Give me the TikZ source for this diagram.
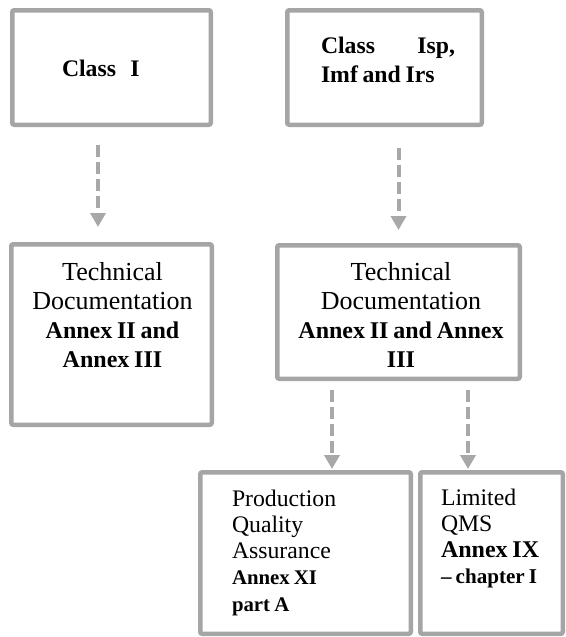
\documentclass[tikz,border=0pt]{standalone}
\usepackage{fontspec}
\setmainfont{Liberation Serif}
\usetikzlibrary{arrows.meta}
\definecolor{boxgray}{HTML}{A5A5A5}
\definecolor{arrgray}{HTML}{A8A8A8}
\tikzset{
  box/.style={draw=boxgray, line width=3.375pt, rounded corners=1.5pt,
    inner sep=0pt, outer sep=1.6875pt},
  txt/.style={inner sep=0pt, outer sep=0pt, text=black},
  flow/.style={draw=arrgray, line width=3pt, dash pattern=on 9pt off 3.75pt,
    -{Triangle[width=11.25pt,length=10.5pt]}},
}
% font sizes with a slightly tighter word space
\newcommand{\setsz}[2]{\fontsize{#1}{#2}\selectfont\spaceskip=0.2em\relax}
\newcommand{\topfont}{\bfseries\setsz{17.8}{21.75}}
\newcommand{\docreg}{\setsz{19.5}{21.75}}
\newcommand{\docbold}{\bfseries\setsz{18}{21.75}}
\newcommand{\lowreg}{\setsz{17.8}{19.7}}
\begin{document}
\begin{tikzpicture}[x=0.75pt,y=-0.75pt]
\useasboundingbox (0,0) rectangle (566,637);

% boxes
\node[box, minimum width=148.875pt, minimum height=85.875pt]  (b1) at (111.5,67.5) {};
\node[box, minimum width=145.875pt, minimum height=85.875pt]  (b2) at (384.5,67.5) {};
\node[box, minimum width=150.375pt, minimum height=135.375pt] (b3) at (111.5,334.5) {};
\node[box, minimum width=181.875pt, minimum height=100.125pt] (b4) at (398.5,312) {};
\node[box, minimum width=157.875pt, minimum height=121.125pt] (b5) at (305.5,553) {};
\node[box, minimum width=106.875pt, minimum height=121.125pt] (b6) at (491.5,553) {};

% box texts
\node[txt, anchor=base west, font=\topfont] (t1) at (62,76) {Class\hspace{0.6em}I};
\node[txt, anchor=base west, font=\topfont, text width=100.5pt, align=left] (t2) at (321,53)
  {\topfont Class\hfill Isp,\\\topfont Imf and Irs};
\node[txt, anchor=base, font=\docreg, text width=145pt, align=center] (t3) at (112.5,280)
  {Technical\\Documentation\\\docbold Annex II and\\\docbold Annex III};
\node[txt, anchor=base, font=\docreg, text width=180pt, align=center] (t4) at (401,280)
  {Technical\\Documentation\\\docbold Annex II and Annex\\\docbold III};
\node[txt, anchor=base west, font=\lowreg, text width=140pt, align=left] (t5) at (232,506)
  {Production\\Quality\\Assurance\\
   \bfseries\setsz{15.6}{19.7}Annex XI\\
   \bfseries\setsz{15.6}{19.7}part A};
\node[txt, anchor=base west, font=\lowreg, text width=85pt, align=left] (t6) at (441,505)
  {Limited\\QMS\\
   \bfseries\setsz{18}{19.7}Annex IX\\
   \bfseries\setsz{15.8}{19.7}-- chapter I};

% connectors
\draw[flow, shorten <=13.5pt, shorten >=11.25pt]
  ([xshift=-10.125pt]b1.south) -- ([xshift=-10.125pt]b3.north);
\draw[flow, shorten <=15.75pt, shorten >=9.75pt]
  (b2.south -| b4.north) -- (b4.north);
\draw[flow, shorten <=6.75pt, shorten >=0.75pt]
  ([xshift=-49.875pt]b4.south) -- ([xshift=19.875pt]b5.north);
\draw[flow, shorten <=6.75pt, shorten >=0.75pt]
  ([xshift=52.125pt]b4.south) -- ([xshift=-17.625pt]b6.north);
\end{tikzpicture}
\end{document}
